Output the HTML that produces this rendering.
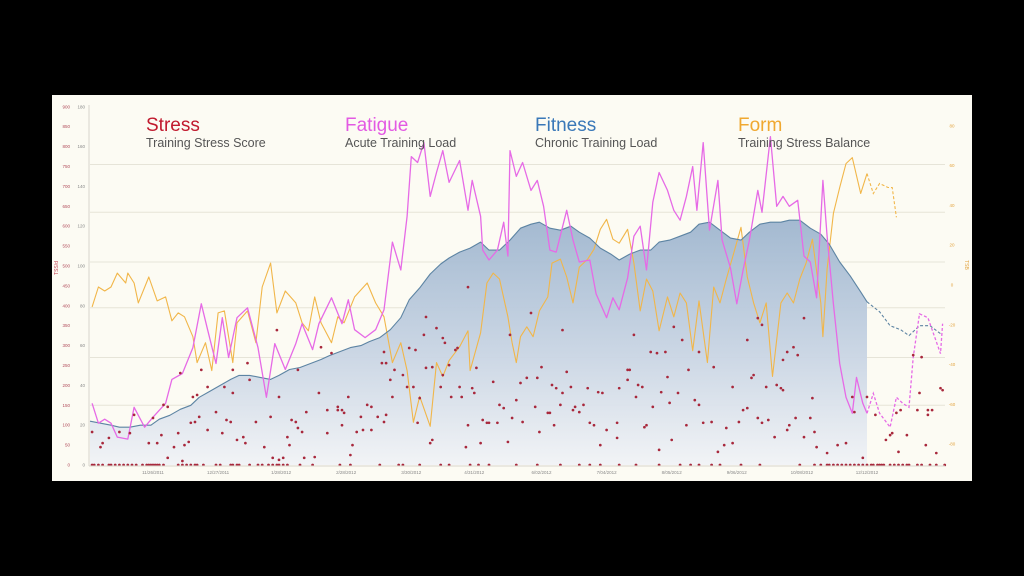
<!DOCTYPE html>
<html><head><meta charset="utf-8"><style>
html,body{margin:0;padding:0;background:#000;width:1024px;height:576px;overflow:hidden}
svg{display:block}
text{font-family:"Liberation Sans",sans-serif}
</style></head><body>
<svg id="chart" width="1024" height="576">
<defs>
<linearGradient id="fitFill" x1="0" y1="0" x2="0" y2="1">
<stop offset="0" stop-color="#9fb6cf"/><stop offset="0.55" stop-color="#c9d5e4"/><stop offset="1" stop-color="#f1f3f6"/>
</linearGradient>
</defs>
<rect x="0" y="0" width="1024" height="576" fill="#000"/>
<rect x="52" y="95" width="920" height="386" fill="#fcfbf3"/>
<g id="grid"></g>
<g id="area"></g>
<g id="lines"></g>
<g id="dots"></g>
<g id="axes"></g>
<g>
<text x="146" y="131" font-size="19" fill="#c11a2e">Stress</text>
<text x="146" y="147" font-size="12.5" fill="#555">Training Stress Score</text>
<text x="345" y="131" font-size="19" fill="#e35ae3">Fatigue</text>
<text x="345" y="147" font-size="12.5" fill="#555">Acute Training Load</text>
<text x="535" y="131" font-size="19" fill="#3a78b8">Fitness</text>
<text x="535" y="147" font-size="12.5" fill="#555">Chronic Training Load</text>
<text x="738" y="131" font-size="19" fill="#f0a830">Form</text>
<text x="738" y="147" font-size="12.5" fill="#555">Training Stress Balance</text>
</g>
</svg>
<script>
const fitDays=[0,5,10,14,19,24,29,33,38,43,48,52,57,62,67,71,76,81,86,90,95,100,105,110,114,119,124,129,133,138,143,148,152,157,162,167,171,176,181,186,190,195,200,205,210,214,219,224,229,233,238,243,248,252,257,262,267,271,276,281,286,290,295,300,305,310,314,319,324,329,333,338,343,348,352,357,362,367,370,376,381,386,390,395,400,405];
const fitVals=[22,21,20,19,19,20,20,23,25,28,30,34,37,40,43,45,45,44,43,45,48,49,51,53,55,57,59,60,62,64,68,74,83,89,96,101,104,107,109,112,108,108,113,119,121,122,119,118,120,117,114,109,106,103,106,108,108,112,113,115,117,121,122,118,114,113,117,121,122,122,123,123,119,116,111,102,95,87,82,77,70,68,65,70,70,66];
const fatDays=[1,4,7,10,13,18,21,26,30,36,39,44,49,53,56,60,63,66,70,75,80,84,88,93,98,101,106,109,115,120,123,126,131,136,140,144,148,151,153,156,159,162,165,168,171,176,180,182,186,187,190,194,197,199,200,203,206,210,213,216,219,222,227,230,233,238,241,246,249,252,256,259,262,265,268,271,275,278,281,284,287,289,292,295,299,301,305,308,311,314,318,320,324,327,330,333,337,340,343,346,349,351,354,357,360,363,365,368,370,373,376,381,384,387,390,392,395,399,401,405,406];
const fatVals=[31,21,23,21,14,13,29,19,24,31,43,46,59,81,68,51,74,54,74,79,59,34,61,48,61,71,58,71,84,71,83,68,64,68,78,112,98,125,155,152,162,135,147,158,142,153,128,143,125,108,103,108,122,105,158,145,152,138,143,130,108,107,128,113,102,103,86,74,84,78,94,115,120,98,132,147,138,128,123,135,150,128,162,118,143,113,99,81,98,113,138,127,165,130,135,130,133,105,102,84,143,115,81,51,34,26,44,31,26,36,26,19,34,31,29,54,76,74,68,56,71];
const formDays=[1,4,7,10,13,17,18,21,23,28,32,36,39,42,45,49,51,55,58,61,64,68,70,75,79,82,86,89,93,98,101,104,107,110,115,118,121,126,132,136,140,144,148,151,154,157,162,165,168,171,176,180,181,186,189,192,195,199,201,203,205,208,211,214,218,220,224,227,230,233,237,240,243,246,249,252,256,259,262,265,268,271,275,278,281,284,287,290,294,297,300,303,306,310,313,316,319,322,325,329,332,335,338,341,344,348,349,351,354,357,360,363,367,370,373,376,380,382,384];
const formVals=[-11,-1,-3,-1,6,1,6,1,-9,4,-8,-6,-18,-14,-16,-26,-39,-29,-43,-14,-13,-39,-19,-13,-29,-1,11,-14,-3,-9,-19,-23,-6,-19,-29,-16,-19,-6,1,-9,-16,-39,-29,-43,-69,-56,-71,-39,-46,-38,-31,-23,-43,-24,1,6,3,-16,-29,-39,-26,-21,-26,-13,-6,11,13,4,-9,9,13,18,28,33,23,21,28,11,-13,3,-3,-23,-6,-16,-4,-9,-33,-8,-39,-1,-9,3,14,29,4,-9,-19,-9,-46,-9,-4,-9,3,11,23,-9,-26,8,36,49,61,64,46,56,46,51,49,49,34];
const tssDays=[1,5,6,9,14,19,21,28,30,32,34,35,37,37,40,42,43,44,45,47,48,49,50,51,52,53,56,56,60,63,64,65,67,68,68,70,73,74,75,76,79,83,86,87,89,90,90,92,94,95,96,98,99,99,101,102,103,107,109,110,113,113,115,118,118,120,120,121,123,124,125,127,129,130,132,134,134,137,139,140,140,141,141,143,144,145,149,151,152,154,155,156,157,159,160,160,162,163,163,165,167,168,168,169,171,172,174,175,176,177,179,180,180,182,183,184,186,187,189,190,192,194,195,197,199,200,201,203,205,206,208,210,212,213,214,215,218,219,220,221,222,224,225,225,227,229,230,231,233,235,237,238,240,242,243,244,246,251,251,252,256,256,257,259,260,261,263,264,265,267,268,270,271,272,274,275,276,277,278,280,282,284,285,288,290,290,292,296,297,299,302,303,306,306,309,311,313,313,315,316,318,318,320,320,322,323,326,327,329,330,330,332,332,333,335,336,337,340,340,343,344,345,346,351,356,360,363,364,368,370,374,379,381,382,384,385,386,389,392,394,395,396,398,399,399,401,403,405,406];
const tssVals=[83,45,55,68,83,80,126,55,118,55,75,151,18,146,45,80,231,10,50,58,106,171,108,176,121,239,196,88,133,80,196,113,108,181,239,63,70,55,256,214,108,45,121,18,339,13,171,18,70,50,113,108,93,239,83,18,133,20,181,296,80,138,281,138,146,138,100,131,171,25,50,83,121,88,151,146,88,121,256,108,284,256,126,214,171,239,226,196,294,196,289,106,168,327,244,372,55,63,246,344,196,226,319,307,251,171,289,294,196,171,45,100,447,193,181,244,55,113,106,106,209,106,151,143,58,327,118,163,206,108,219,382,146,219,83,246,131,131,201,100,193,151,339,181,234,196,138,146,133,151,193,106,100,183,50,181,88,106,68,193,214,239,239,327,171,201,196,95,100,284,146,281,38,183,284,221,156,63,347,181,314,100,239,163,151,284,106,108,246,33,50,93,196,55,108,138,314,143,219,226,369,118,106,352,196,113,70,201,193,264,188,88,284,100,296,118,276,70,369,118,168,83,45,30,50,55,171,133,18,171,126,63,75,80,131,33,138,75,276,138,181,271,50,126,138,138,30,193,188];
const zeroDays=[1,2,4,6,9,10,12,14,16,18,20,22,25,27,28,29,30,31,32,33,35,42,44,46,48,50,51,54,60,62,67,68,70,71,76,80,82,85,87,89,90,92,94,100,106,119,124,138,147,149,157,167,171,181,185,190,203,213,224,233,238,243,252,260,271,281,286,290,296,300,310,319,338,345,348,351,352,354,356,358,360,362,364,366,368,370,372,373,375,376,377,378,381,383,385,387,389,390,394,396,400,403,407];
const tssTicks=[0,50,100,150,200,250,300,350,400,450,500,550,600,650,700,750,800,850,900];
const loadTicks=[0,20,40,60,80,100,120,140,160,180];
const formTicks=[80,60,40,20,0,-20,-40,-60,-80];
const gridLoad=[151,127,102,79,54,30];
const dateLabels=["11/26/2011","12/27/2011","1/28/2012","2/28/2012","3/30/2012","4/31/2012","6/02/2012","7/04/2012","8/05/2012","9/06/2012","10/08/2012","12/12/2012"];
const dateDays=[30,61,91,122,153,183,215,246,277,308,339,370];
const PROJ_END=370;

const NS="http://www.w3.org/2000/svg";
const xS=d=>90+d*2.1;
const yL=v=>465-v*1.99;
const yF=v=>285-v*1.99;
const yT=t=>465-t*0.398;
function mk(tag,attrs,parent){const e=document.createElementNS(NS,tag);for(const k in attrs)e.setAttribute(k,attrs[k]);parent.appendChild(e);return e;}
const G=id=>document.getElementById(id);

const grid=G('grid');
gridLoad.forEach(v=>{
  const l=mk('line',{x1:90,x2:945,y1:yL(v),y2:yL(v),stroke:'#e6e4d8','stroke-width':1},grid);
  
  
});

function pts(days,vals,ys,filter){const out=[];for(let i=0;i<days.length;i++){if(filter(days[i]))out.push(xS(days[i]).toFixed(1)+','+ys(vals[i]).toFixed(1));}return out;}
const solidF=pts(fitDays,fitVals,yL,d=>d<=PROJ_END);
const area=mk('polygon',{points:xS(fitDays[0])+','+yL(0)+' '+solidF.join(' ')+' '+xS(PROJ_END)+','+yL(0),fill:'url(#fitFill)',opacity:0.95},G('area'));



const lines=G('lines');
function line(days,vals,ys,color,w,name){
  const a=pts(days,vals,ys,d=>d<=PROJ_END), b=pts(days,vals,ys,d=>d>=PROJ_END);
  const s=mk('polyline',{points:a.join(' '),fill:'none',stroke:color,'stroke-width':w,'stroke-linejoin':'round'},lines);
  
  
  const p=mk('polyline',{points:b.join(' '),fill:'none',stroke:color,'stroke-width':w,'stroke-dasharray':'3,2'},lines);
  
  
}
line(formDays,formVals,yF,'#f1b649',1.1,'form');
line(fitDays,fitVals,yL,'#5d84a3',1.1,'fitness');
line(fatDays,fatVals,yL,'#e66ae6',1.3,'fatigue');

const dots=G('dots');
for(let i=0;i<tssDays.length;i++){
  const c=mk('circle',{cx:xS(tssDays[i]),cy:yT(tssVals[i]),r:1.35,fill:'#a8283c'},dots);
  
  
}
for(let i=0;i<zeroDays.length;i++){
  const c=mk('circle',{cx:xS(zeroDays[i]),cy:yT(0),r:1.4,fill:'#a8283c'},dots);
  
  
}

const axes=G('axes');
const al=mk('line',{x1:89,x2:89,y1:105,y2:466,stroke:'#d8d6cc','stroke-width':1},axes);


const bl=mk('line',{x1:89,x2:945,y1:466,y2:466,stroke:'#d8d6cc','stroke-width':1},axes);


tssTicks.forEach(t=>{
  const e=mk('text',{x:70,y:yT(t)+1.5,'font-size':4.5,fill:'#b04a5a','text-anchor':'end'},axes);
  e.textContent=t;
  
  
});
loadTicks.forEach(t=>{
  const e=mk('text',{x:85,y:yL(t)+1.5,'font-size':4.5,fill:'#888','text-anchor':'end'},axes);
  e.textContent=t;
  
  
});
formTicks.forEach(t=>{
  const e=mk('text',{x:952,y:yF(t)+1.5,'font-size':4.5,fill:'#e3a440','text-anchor':'middle'},axes);
  e.textContent=t;
  
  
});
dateLabels.forEach((s,i)=>{
  const e=mk('text',{x:xS(dateDays[i]),y:474,'font-size':4.5,fill:'#888','text-anchor':'middle'},axes);
  e.textContent=s;
  
  
});
const ty=mk('text',{x:58,y:268,'font-size':5,fill:'#c04050','text-anchor':'middle',transform:'rotate(-90 58 268)'},axes);
ty.textContent='TSS/d';


const tf=mk('text',{x:965,y:265,'font-size':5,fill:'#e3a440','text-anchor':'middle',transform:'rotate(90 965 265)'},axes);
tf.textContent='TSB';


</script>
</body></html>
